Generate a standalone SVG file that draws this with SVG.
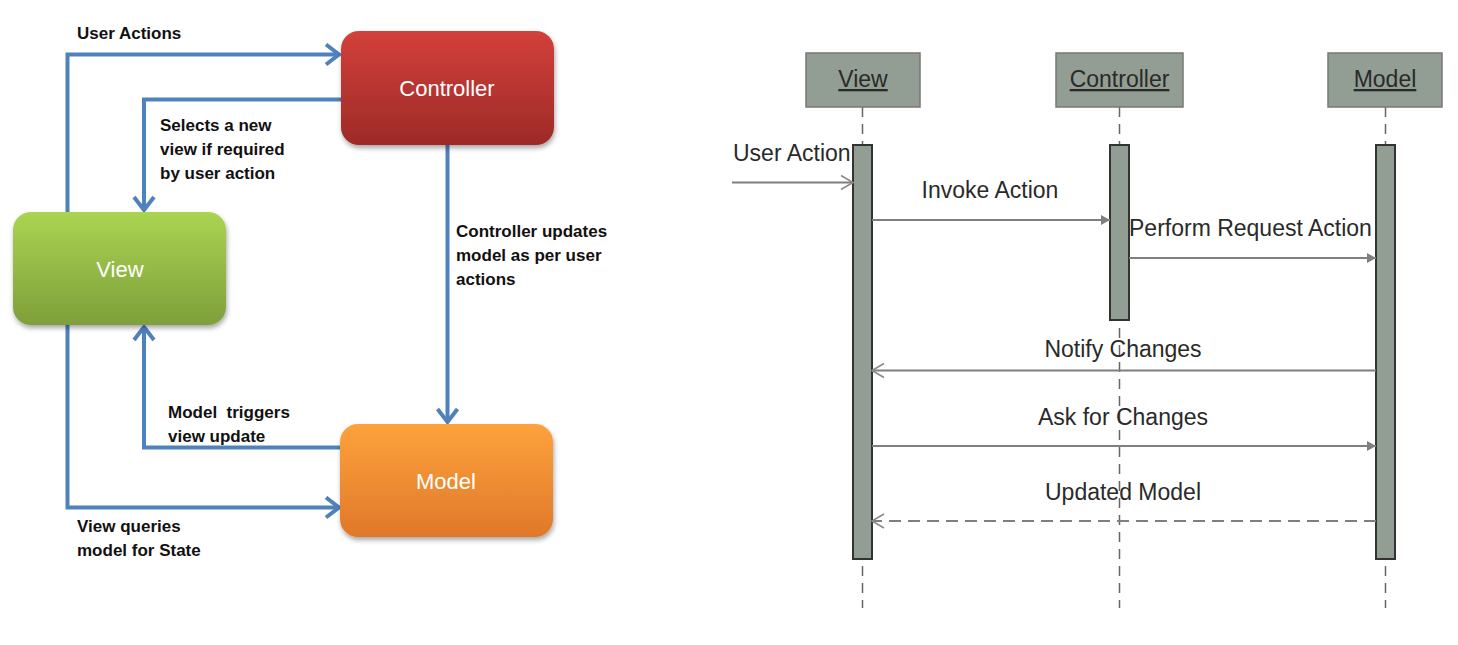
<svg xmlns="http://www.w3.org/2000/svg" width="1458" height="645" viewBox="0 0 1458 645">
<style>
.nodeText{font-family:"Liberation Sans",Arial,sans-serif;font-size:22px;fill:#ffffff;text-anchor:middle}
.lbl{font-family:"Liberation Sans",Arial,sans-serif;font-size:17px;font-weight:bold;fill:#111}
.conn{fill:none;stroke:#4f81bd;stroke-width:4;stroke-linejoin:miter}
.seqText{font-family:"Liberation Sans",Arial,sans-serif;font-size:23px;fill:#2a2a2a}
.hdr{fill:#929e93;stroke:#777;stroke-width:1.5}
.act{fill:#929e93;stroke:#333;stroke-width:2}
.life{stroke:#666;stroke-width:1.5;stroke-dasharray:10 7;fill:none}
.msg{stroke:#7f7f7f;stroke-width:2;fill:none}
</style>
<defs>
<linearGradient id="gRed" x1="0" y1="0" x2="0" y2="1"><stop offset="0" stop-color="#d3403b"/><stop offset="1" stop-color="#9d2a27"/></linearGradient>
<linearGradient id="gGreen" x1="0" y1="0" x2="0" y2="1"><stop offset="0" stop-color="#abd452"/><stop offset="1" stop-color="#7e9f3a"/></linearGradient>
<linearGradient id="gOrange" x1="0" y1="0" x2="0" y2="1"><stop offset="0" stop-color="#fda23c"/><stop offset="1" stop-color="#e0782a"/></linearGradient>
<filter id="sh" x="-10%" y="-10%" width="125%" height="130%"><feDropShadow dx="1" dy="3" stdDeviation="2.5" flood-color="#000" flood-opacity="0.35"/></filter>
<marker id="chev" markerUnits="userSpaceOnUse" markerWidth="20" markerHeight="24" refX="16" refY="12" orient="auto"><path d="M3,2 L16,12 L3,22" fill="none" stroke="#4f81bd" stroke-width="4"/></marker>
<marker id="tri" markerUnits="userSpaceOnUse" markerWidth="12" markerHeight="12" refX="10" refY="6" orient="auto"><path d="M1,1 L10,6 L1,11 Z" fill="#7f7f7f"/></marker>
<marker id="open" markerUnits="userSpaceOnUse" markerWidth="16" markerHeight="18" refX="14" refY="9" orient="auto"><path d="M2,2 L14,9 L2,16" fill="none" stroke="#8a8a8a" stroke-width="1.6"/></marker>
</defs>

<g id="connectors">
<polyline class="conn" points="67.5,212 67.5,54.5 339,54.5" marker-end="url(#chev)"/>
<polyline class="conn" points="341,99.5 144,99.5 144,210" marker-end="url(#chev)"/>
<polyline class="conn" points="447.5,145 447.5,422" marker-end="url(#chev)"/>
<polyline class="conn" points="341,447.5 144,447.5 144,327" marker-end="url(#chev)"/>
<polyline class="conn" points="67.5,325 67.5,507.5 339,507.5" marker-end="url(#chev)"/>
</g>

<g id="labels">
<text class="lbl" x="77" y="39">User Actions</text>
<text class="lbl" x="160" y="131">Selects a new</text>
<text class="lbl" x="160" y="155">view if required</text>
<text class="lbl" x="160" y="179">by user action</text>
<text class="lbl" x="456" y="237">Controller updates</text>
<text class="lbl" x="456" y="261">model as per user</text>
<text class="lbl" x="456" y="285">actions</text>
<text class="lbl" x="168" y="418" xml:space="preserve">Model  triggers</text>
<text class="lbl" x="168" y="442">view update</text>
<text class="lbl" x="77" y="532">View queries</text>
<text class="lbl" x="77" y="556">model for State</text>
</g>

<g id="controller">
<rect x="341" y="31" width="213" height="114" rx="18" fill="url(#gRed)" filter="url(#sh)"/>
<text class="nodeText" x="447" y="96">Controller</text>
</g>
<g id="view">
<rect x="13" y="212" width="213" height="113" rx="18" fill="url(#gGreen)" filter="url(#sh)"/>
<text class="nodeText" x="120" y="277">View</text>
</g>
<g id="model">
<rect x="340" y="424" width="213" height="113" rx="18" fill="url(#gOrange)" filter="url(#sh)"/>
<text class="nodeText" x="446" y="489">Model</text>
</g>

<g id="lifelines">
<line class="life" x1="862.5" y1="107" x2="862.5" y2="608"/>
<line class="life" x1="1119.5" y1="107" x2="1119.5" y2="608"/>
<line class="life" x1="1385.5" y1="107" x2="1385.5" y2="608"/>
</g>

<g id="seq-view">
<rect class="hdr" x="806" y="53" width="114" height="54"/>
<text class="seqText" x="863" y="87" text-anchor="middle" text-decoration="underline">View</text>
<rect class="act" x="853" y="145" width="19" height="414"/>
</g>
<g id="seq-controller">
<rect class="hdr" x="1056" y="53" width="127" height="54"/>
<text class="seqText" x="1119.5" y="87" text-anchor="middle" text-decoration="underline">Controller</text>
<rect class="act" x="1110" y="145" width="19" height="175"/>
</g>
<g id="seq-model">
<rect class="hdr" x="1328" y="53" width="114" height="54"/>
<text class="seqText" x="1385" y="87" text-anchor="middle" text-decoration="underline">Model</text>
<rect class="act" x="1376" y="145" width="19" height="414"/>
</g>

<g id="messages">
<line class="msg" x1="732" y1="182.5" x2="853" y2="182.5" marker-end="url(#open)"/>
<line class="msg" x1="872" y1="220" x2="1110" y2="220" marker-end="url(#tri)"/>
<line class="msg" x1="1129" y1="258" x2="1376" y2="258" marker-end="url(#tri)"/>
<line class="msg" x1="1376" y1="370.5" x2="872" y2="370.5" marker-end="url(#open)"/>
<line class="msg" x1="872" y1="446" x2="1376" y2="446" marker-end="url(#tri)"/>
<line class="msg" x1="1376" y1="521" x2="872" y2="521" stroke-dasharray="12 7" marker-end="url(#open)"/>
<text class="seqText" x="733" y="161">User Action</text>
<text class="seqText" x="990" y="198" text-anchor="middle">Invoke Action</text>
<text class="seqText" x="1129" y="236">Perform Request Action</text>
<text class="seqText" x="1123" y="357" text-anchor="middle">Notify Changes</text>
<text class="seqText" x="1123" y="425" text-anchor="middle">Ask for Changes</text>
<text class="seqText" x="1123" y="500" text-anchor="middle">Updated Model</text>
</g>
</svg>
